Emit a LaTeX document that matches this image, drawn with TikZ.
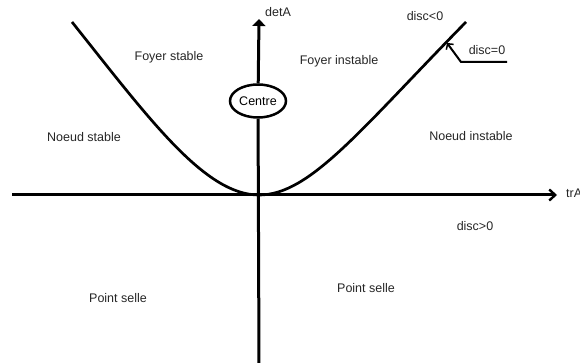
\documentclass[tikz,border=0pt]{standalone}
\usepackage{fontspec}
\setmainfont{Liberation Sans}
\usetikzlibrary{arrows.meta,shapes.geometric}
\begin{document}
\begin{tikzpicture}[x=1pt,y=-1pt,
    region/.style={text=black!85,font=\fontsize{12.5}{15}\selectfont,inner sep=0pt},
    axis/.style={line width=3pt,black},
    border/.style={line width=2.7pt,black}]
  \useasboundingbox (0,0) rectangle (580,363);
  \clip (0,0) rectangle (580,363);
  % axes
  \coordinate (xl) at (12,195);
  \coordinate (xr) at (557,195);
  \coordinate (yb) at (259,365);
  \coordinate (yt) at (259,19);
  \coordinate (o) at (259,195);
  \node[ellipse,draw,line width=2.5pt,minimum width=56pt,minimum height=33pt,
    region,text=black] (centre) at (258,101) {Centre};
  \draw[axis,-{Straight Barb[length=6pt,width=11pt,line width=2.4pt]}] (xl) -- (xr);
  \draw[axis] (yb) -- (centre);
  \draw[axis,-{Triangle[length=7pt,width=13pt]}] (centre) -- (yt);
  \node[region,anchor=west] (trA) at (566,193) {trA};
  \node[region,anchor=west] (detA) at (265,12) {detA};
  % disc = 0
  \coordinate (pl) at (72,22);
  \coordinate (pr) at (466,22);
  \draw[border] (pl) .. controls (150,120) and (205,195) .. (o)
    .. controls (310,195) and (360,130) .. (pr);
  \coordinate (tip) at (447,43);
  \coordinate (kink) at (461,62);
  \coordinate (tail) at (507,62);
  \draw[line width=2pt,-{Straight Barb[length=4pt,width=9pt,line width=1.5pt]}]
    (tail) -- (kink) -- (tip);
  % regions
  \node[region] (fs) at (169,57) {Foyer stable};
  \node[region] (fi) at (339,61) {Foyer instable};
  \node[region] (ns) at (84,137) {Noeud stable};
  \node[region] (ni) at (471,136) {Noeud instable};
  \node[region] (psl) at (118,298) {Point selle};
  \node[region] (psr) at (366,288) {Point selle};
  \node[region] (dneg) at (425,16) {disc<0};
  \node[region] (dzero) at (487,50) {disc=0};
  \node[region] (dpos) at (475,226) {disc>0};
\end{tikzpicture}
\end{document}
